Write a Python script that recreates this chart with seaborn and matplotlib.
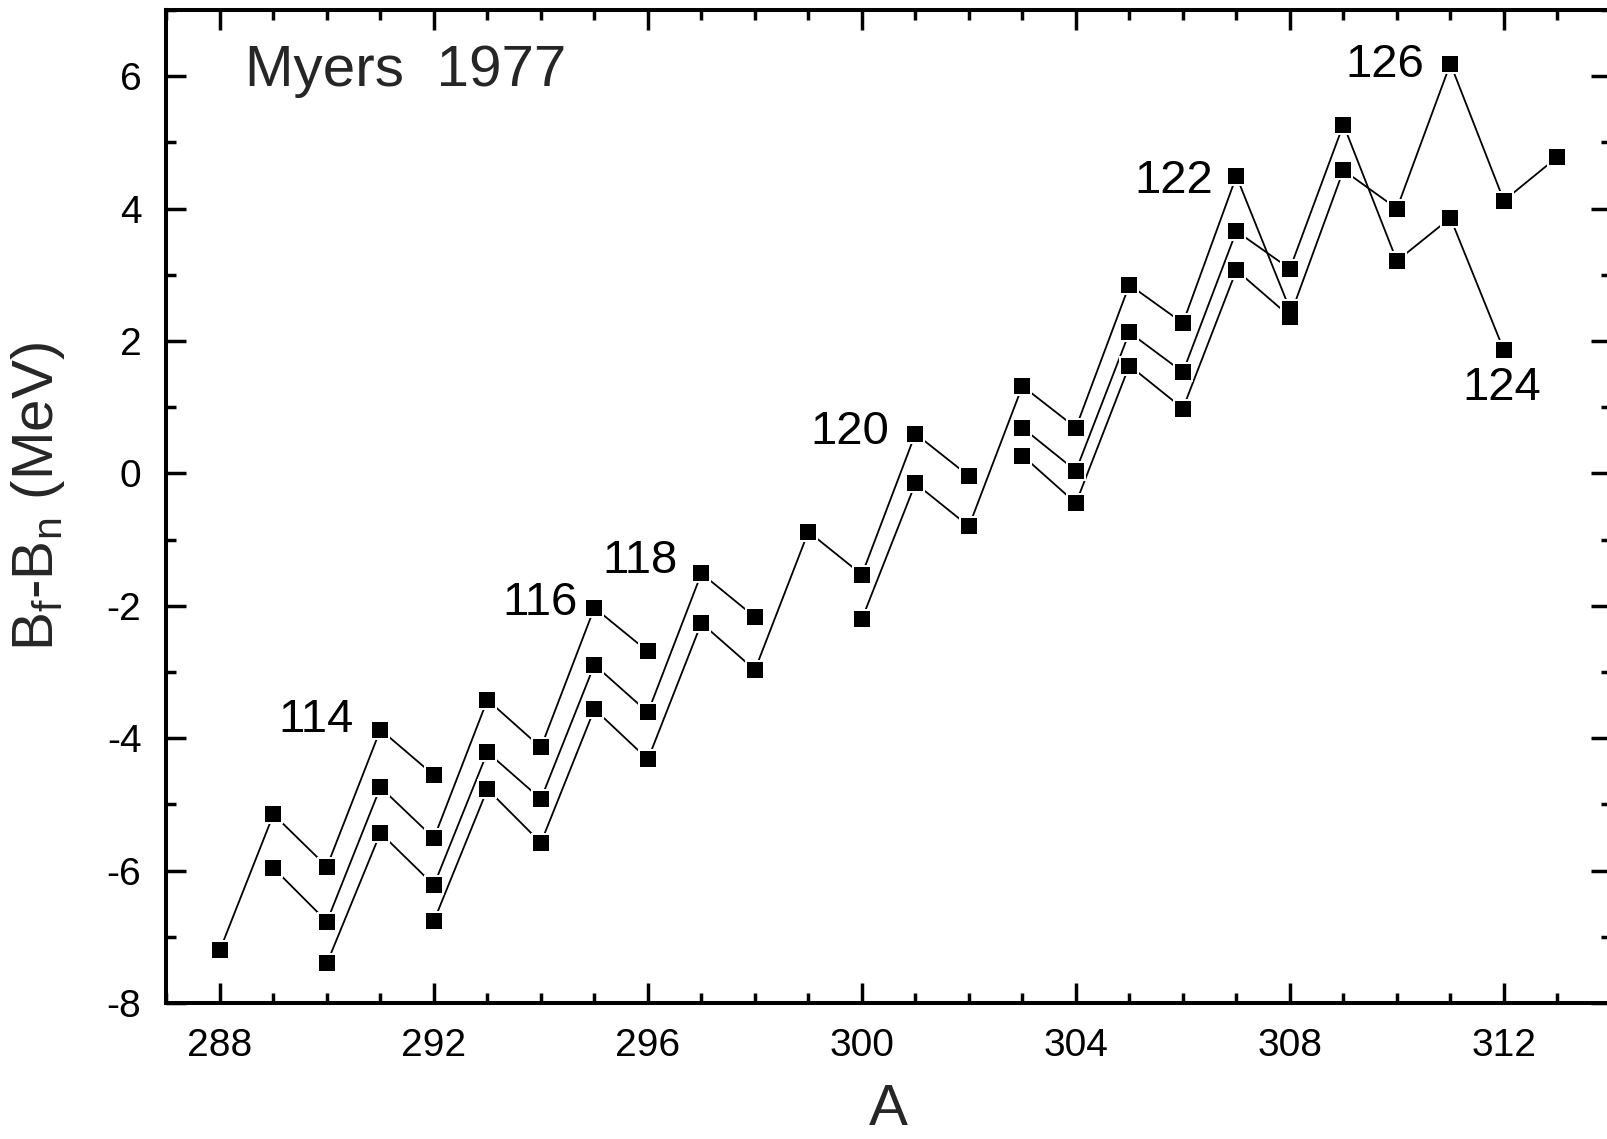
import matplotlib
matplotlib.use("Agg")
import pandas as pd
import matplotlib.pyplot as plt
from matplotlib.ticker import MultipleLocator
import seaborn as sns

# -----------------------------------------------------------------------------
# Data: B_f - B_n along each chain, labelled by Z
# -----------------------------------------------------------------------------

a_114 = [288, 289, 290, 291, 292]
b_114 = [-7.20, -5.15, -5.94, -3.87, -4.56]

a_116 = [289, 290, 291, 292, 293, 294, 295, 296]
b_116 = [-5.96, -6.77, -4.74, -5.51, -3.42, -4.14, -2.03, -2.69]

a_118 = [290, 291, 292, 293, 294, 295, 296, 297, 298]
b_118 = [-7.40, -5.43, -6.22, -4.21, -4.92, -2.89, -3.61, -1.51, -2.17]

a_120 = [292, 293, 294, 295, 296, 297, 298, 299, 300, 301, 302]
b_120 = [-6.76, -4.77, -5.58, -3.56, -4.32, -2.26, -2.97, -0.88, -1.53, 0.60, -0.04]

a_122 = [300, 301, 302, 303, 304, 305, 306, 307, 308]
b_122 = [-2.20, -0.15, -0.80, 1.32, 0.69, 2.85, 2.27, 4.49, 2.48]

a_124 = [303, 304, 305, 306, 307, 308, 309, 310, 311, 312]
b_124 = [0.69, 0.04, 2.13, 1.53, 3.66, 3.09, 5.27, 3.21, 3.86, 1.86]

a_126 = [303, 304, 305, 306, 307, 308, 309, 310, 311, 312, 313]
b_126 = [0.27, -0.45, 1.63, 0.98, 3.07, 2.37, 4.58, 4.00, 6.19, 4.12, 4.78]

z_labels = ["114", "116", "118", "120", "122", "124", "126"]
chains = [(a_114, b_114), (a_116, b_116), (a_118, b_118), (a_120, b_120),
          (a_122, b_122), (a_124, b_124), (a_126, b_126)]

# where each Z label sits (data coords) and how it is anchored
label_x = [290.49, 294.69, 296.56, 300.52, 306.56, 311.96, 310.52]
label_y = [-3.72, -1.96, -1.32, 0.63, 4.42, 1.29, 6.17]
label_ha = ["right", "right", "right", "right", "right", "center", "right"]

x_ticks = [288, 292, 296, 300, 304, 308, 312]
y_ticks = [-8, -6, -4, -2, 0, 2, 4, 6]

rows = []
for z, (a_vals, b_vals) in zip(z_labels, chains):
    for a, b in zip(a_vals, b_vals):
        rows.append({"Z": z, "A": a, "B": b})
df = pd.DataFrame(rows)

# -----------------------------------------------------------------------------
# Style
# -----------------------------------------------------------------------------

sns.set_theme(style="ticks")
plt.rcParams["font.family"] = ["Liberation Sans", "DejaVu Sans"]
plt.rcParams["mathtext.fontset"] = "custom"
plt.rcParams["mathtext.rm"] = "Liberation Sans"
plt.rcParams["mathtext.it"] = "Liberation Sans:italic"
plt.rcParams["axes.unicode_minus"] = False

fig = plt.figure(figsize=(16.08, 11.39), dpi=100)
ax = fig.add_axes([0.1035, 0.1194, 0.8983, 0.8718])

# -----------------------------------------------------------------------------
# Plot
# -----------------------------------------------------------------------------

sns.lineplot(data=df, x="A", y="B", units="Z", estimator=None, sort=False,
             color="black", linewidth=1.3, ax=ax, zorder=1, legend=False)
# white halo so the lines stop a little short of each square
sns.scatterplot(data=df, x="A", y="B", marker="s", s=200, color="white",
                linewidth=0, ax=ax, zorder=2, legend=False)
sns.scatterplot(data=df, x="A", y="B", marker="s", s=130, color="black",
                linewidth=0, ax=ax, zorder=3, legend=False)

for txt, lx, ly, ha in zip(z_labels, label_x, label_y, label_ha):
    ax.text(lx, ly, txt, ha=ha, va="center", fontsize=34, color="black")

ax.text(288.47, 5.85, "Myers  1977", ha="left", va="baseline", fontsize=42)

ax.set_xlim(287, 314)
ax.set_ylim(-8, 7)
ax.set_xticks(x_ticks)
ax.set_yticks(y_ticks)
ax.xaxis.set_minor_locator(MultipleLocator(1))
ax.yaxis.set_minor_locator(MultipleLocator(1))
ax.tick_params(which="both", direction="in", top=True, right=True,
               width=2.5, colors="black", labelsize=28, pad=18)
ax.tick_params(which="major", length=14.5)
ax.tick_params(which="minor", length=7.2)

for sp in ax.spines.values():
    sp.set_linewidth(2.9)
    sp.set_color("black")

ax.set_xlabel("A", fontsize=42, labelpad=13.5)
ax.set_ylabel(r"B$_\mathrm{f}$-B$_\mathrm{n}$ (MeV)", fontsize=42)
ax.yaxis.set_label_coords(-0.069, 0.51)

fig.savefig("out.png", dpi=100)
